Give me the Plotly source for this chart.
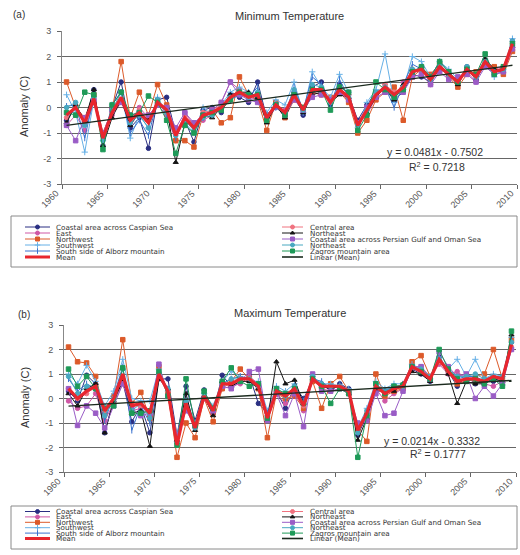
import plotly.graph_objects as go

W, H = 520, 555

years = list(range(1961, 2011))

# ---------------- Minimum temperature anomalies (C) ----------------
tmin_caspian = [-0.5, 0.0, -0.6, 0.7, -1.5, 0.0, 1.0, -0.8, -0.4, -1.6,
                0.3, 0.4, -1.0, -0.5, -1.35, -0.1, 0.0, -0.2, 0.5, 0.4,
                0.2, 1.0, -0.4, 0.2, -0.3, 0.6, -0.3, 0.8, 1.0, 0.1,
                0.9, 0.5, -0.5, 0.1, 0.6, 0.7, 0.3, 0.6, 1.3, 1.2,
                1.0, 1.5, 1.3, 0.9, 1.6, 1.1, 1.7, 1.3, 1.4, 2.6]
tmin_east = [-0.7, -0.3, -0.9, 0.2, -1.1, -0.3, 0.2, -0.6, 0.0, -0.4,
             0.1, -0.3, -1.3, -0.2, -0.7, -0.5, -0.3, 0.2, 1.0, 0.7,
             0.3, 0.4, -0.3, 0.0, -0.1, 0.4, 0.0, 0.6, 0.5, 0.3,
             0.6, 0.3, -0.6, -0.3, 0.4, 0.9, 0.4, 1.0, 1.3, 1.6,
             0.9, 1.7, 1.2, 1.1, 1.4, 1.0, 1.9, 1.5, 1.6, 2.4]
tmin_northwest = [1.0, 0.0, -0.4, 0.5, -1.0, -0.1, 1.8, -0.4, 0.6, -0.3,
                  0.9, 0.1, -1.3, -1.3, -1.55, -0.3, -0.1, -0.6, -0.4, 1.2,
                  0.5, 0.3, -0.9, 0.2, -0.4, 0.3, 0.0, 0.6, 0.5, 0.4,
                  0.6, 0.2, -1.0, -0.5, 0.3, 0.6, 0.8, -0.5, 1.2, 1.5,
                  1.3, 1.7, 1.2, 0.8, 1.3, 1.4, 1.7, 1.6, 1.3, 2.2]
tmin_southwest = [0.5, -0.2, -1.75, 0.3, -1.3, 0.1, 0.6, -1.2, -0.3, -0.8,
                  0.4, -0.2, -0.9, -0.6, -1.0, 0.0, -0.3, 0.1, 0.6, 0.8,
                  0.6, 0.3, -0.2, 0.3, 0.1, 1.0, -0.2, 1.4, 0.8, 0.4,
                  1.3, 0.6, -0.8, 0.2, 0.7, 2.1, 0.2, 0.7, 2.0, 1.8,
                  1.2, 1.8, 1.5, 1.1, 1.4, 1.3, 1.9, 1.2, 1.5, 2.7]
tmin_alborz = [0.05, 0.1, -1.2, 0.4, -1.4, 0.1, 0.6, -1.0, -0.5, -1.1,
               0.3, -0.3, -1.2, -0.4, -0.9, -0.4, -0.2, 0.0, 0.3, 0.5,
               0.4, 0.8, -0.5, 0.0, -0.3, 0.8, -0.1, 1.2, 0.9, 0.1,
               1.1, 0.4, -0.6, -0.2, 0.5, 0.8, 0.0, 0.9, 1.7, 1.5,
               1.2, 1.8, 1.4, 1.0, 1.5, 1.2, 1.8, 1.4, 1.5, 2.6]
tmin_central = [-0.4, 0.1, -0.5, 0.3, -1.1, -0.2, 0.3, -0.4, -0.1, -0.5,
                0.2, 0.0, -1.0, -0.3, -0.7, -0.2, -0.1, 0.1, 0.4, 0.5,
                0.4, 0.5, -0.4, 0.1, -0.2, 0.5, -0.1, 0.6, 0.7, 0.3,
                0.7, 0.5, -0.7, 0.0, 0.5, 0.9, 0.6, 0.8, 1.5, 1.4,
                1.2, 1.6, 1.2, 1.1, 1.5, 1.3, 1.8, 1.4, 1.6, 2.5]
tmin_northeast = [-0.6, 0.1, -0.5, 0.7, -1.5, -0.4, 0.3, -0.7, -0.2, -0.5,
                  0.1, 0.0, -2.15, -0.6, -0.7, -0.3, -0.4, 0.0, 0.5, 0.6,
                  0.6, 0.4, -0.6, 0.1, -0.4, 0.4, -0.2, 0.5, 0.6, 0.2,
                  0.5, 0.4, -0.6, -0.2, 0.4, 0.8, 0.3, 0.9, 1.3, 1.6,
                  1.1, 1.6, 1.3, 0.9, 1.5, 1.1, 1.9, 1.5, 1.4, 2.4]
tmin_persian = [-0.7, -1.3, -0.4, 0.3, -1.0, -0.1, 0.2, -0.3, -0.2, -0.3,
                0.1, 0.0, -0.8, -0.2, -0.6, -0.3, -0.1, 0.2, 1.0, 0.5,
                0.3, 0.2, -0.3, 0.1, -0.3, 0.3, -0.1, 0.4, 0.5, 0.3,
                0.6, 0.3, -0.6, 0.0, 0.4, 0.6, 0.5, 0.6, 1.2, 1.3,
                0.9, 1.4, 1.1, 1.2, 1.3, 1.0, 1.6, 1.3, 1.4, 2.3]
tmin_northeast2 = [0.0, 0.2, -0.7, 0.4, -1.3, -0.1, 0.6, -0.6, -0.3, -0.8,
                   0.3, -0.2, -1.1, -0.5, -0.9, -0.4, -0.3, 0.0, 0.4, 0.6,
                   0.4, 0.6, -0.3, 0.1, -0.2, 0.7, -0.1, 0.9, 0.8, 0.2,
                   0.8, 0.4, -0.7, -0.1, 0.6, 0.8, 0.5, 0.8, 1.5, 1.5,
                   1.1, 1.7, 1.3, 1.0, 1.6, 1.2, 1.8, 1.4, 1.5, 2.6]
tmin_zagros = [-0.2, -0.3, 0.6, 0.5, -1.65, 0.1, 0.6, -0.3, -0.2, 0.45,
               0.2, -0.5, -1.8, -0.7, -1.0, -0.3, -0.2, -0.1, 0.3, 0.6,
               0.5, 0.5, -0.5, 0.1, -0.3, 0.5, 0.0, 0.7, 0.7, -0.1,
               0.8, 0.6, -0.9, -0.3, 1.0, 0.7, 0.4, 0.7, 1.4, 1.6,
               1.2, 1.8, 1.4, 1.0, 1.5, 1.3, 2.1, 1.3, 1.6, 2.5]
tmin_mean = [-0.3, 0.0, -0.6, 0.35, -1.2, -0.2, 0.4, -0.5, -0.2, -0.6,
             0.2, -0.1, -1.1, -0.4, -0.8, -0.3, -0.2, 0.0, 0.4, 0.6,
             0.4, 0.5, -0.4, 0.1, -0.2, 0.5, -0.1, 0.7, 0.7, 0.2,
             0.7, 0.4, -0.7, -0.1, 0.5, 0.8, 0.5, 0.8, 1.4, 1.5,
             1.1, 1.6, 1.3, 1.0, 1.5, 1.2, 1.8, 1.4, 1.5, 2.5]
tmin_slope, tmin_intercept, tmin_r2 = 0.0481, -0.7502, 0.7218

# ---------------- Maximum temperature anomalies (C) ----------------
tmax_caspian = [0.3, -0.1, 0.95, 0.6, -1.4, 0.0, 0.7, -0.95, -0.3, -1.4,
                0.8, 0.8, -1.5, 0.5, -0.9, 0.35, -0.6, 0.95, 0.5, 0.7,
                0.95, -0.2, -0.6, 0.3, -0.4, 0.5, 0.0, 0.7, 0.6, 0.3,
                0.6, 0.4, -1.5, -0.7, 0.3, 0.3, 0.5, 0.4, 1.2, 1.0,
                0.7, 1.7, 1.1, 0.5, 0.9, 0.6, 0.8, 0.7, 0.9, 2.3]
tmax_east = [-0.1, -0.4, -0.3, 0.2, -0.9, -0.2, 0.6, -0.5, -0.4, -0.7,
             0.9, 0.2, -1.6, -0.3, -1.0, 0.0, -0.6, 0.4, 0.5, 0.6,
             0.9, 0.6, -0.7, 0.2, -0.2, 0.3, -0.5, 0.9, 0.4, 0.3,
             0.4, 0.2, -1.1, -0.8, 0.4, -0.1, 0.2, 0.4, 1.2, 1.3,
             0.9, 1.4, 1.0, 1.1, 0.8, 0.7, 0.6, 0.5, 0.7, 2.0]
tmax_northwest = [2.1, 1.5, 1.45, 0.9, -0.6, 0.1, 2.4, -0.2, 0.25, -0.8,
                  1.3, 0.2, -2.4, -1.0, -1.6, 0.0, -0.95, 0.4, 0.7, 1.2,
                  0.8, 0.4, -1.6, 0.2, 0.0, 0.1, -0.4, 0.7, -0.4, 0.6,
                  0.9, 0.3, -1.3, -1.75, 1.0, 0.1, 0.3, 0.4, 1.5, 1.75,
                  0.9, 1.5, 1.2, 0.6, 0.7, 0.9, 1.0, 2.0, 0.8, 2.4]
tmax_southwest = [1.0, 0.6, 1.35, 0.7, -0.3, 0.3, 1.6, 0.0, -0.1, -0.1,
                  1.2, 0.3, -1.5, 0.0, -1.0, 0.2, -0.3, 0.7, 1.1, 0.9,
                  0.7, 0.7, -0.5, 0.5, 0.3, 0.6, -0.2, 0.9, 0.6, 0.6,
                  0.5, 0.4, -1.2, -0.4, 0.7, 0.4, 0.6, 0.6, 1.4, 1.2,
                  0.8, 1.7, 1.2, 1.6, 0.9, 1.6, 0.8, 1.0, 0.9, 2.5]
tmax_alborz = [0.8, 0.3, 0.6, 0.4, -0.9, 0.1, 1.3, -1.3, -0.3, -1.0,
               0.9, 0.4, -1.7, -0.1, -1.1, 0.2, -0.4, 0.6, 0.8, 0.9,
               0.8, 0.4, -0.6, 0.4, 0.0, 0.5, -0.1, 0.8, 0.7, 0.4,
               0.6, 0.3, -1.4, -0.6, 0.5, 0.3, 0.5, 0.5, 1.3, 1.1,
               0.8, 1.6, 1.1, 0.8, 0.9, 0.9, 0.7, 0.9, 0.8, 2.4]
tmax_central = [0.4, 0.0, 0.2, 0.5, -0.5, 0.0, 0.9, -0.3, -0.3, -0.5,
                1.0, 0.3, -1.8, -0.2, -1.2, 0.1, -0.5, 0.6, 0.5, 0.8,
                0.8, 0.5, -0.8, 0.3, 0.2, 0.4, -0.3, 0.8, 0.4, 0.5,
                0.5, 0.3, -1.2, -0.6, 0.5, 0.2, 0.4, 0.5, 1.3, 1.1,
                0.8, 1.5, 1.1, 0.7, 0.8, 0.7, 0.7, 0.9, 0.7, 2.1]
tmax_northeast = [0.2, -0.3, 0.4, 0.6, -1.4, -0.1, 0.7, -0.6, -0.5, -1.95,
                  0.8, 0.4, -1.7, 0.2, -1.3, 0.1, -0.7, 0.7, 0.5, 0.7,
                  0.7, 0.4, -0.9, 1.5, 0.6, 0.75, -0.2, 0.8, 0.5, 0.4,
                  0.5, 0.2, -1.7, -0.8, 0.4, 0.3, 0.3, 0.6, 1.1, 1.0,
                  0.7, 1.6, 1.0, -0.2, 0.7, 0.6, 0.6, 0.8, 0.7, 2.6]
tmax_persian = [0.4, -1.1, -0.3, -0.6, -1.2, -0.3, 0.6, -0.4, -0.7, -0.6,
                1.4, 0.1, -1.5, -0.5, -1.1, 0.0, -0.5, 0.5, 0.4, 0.7,
                1.1, 1.2, -0.9, 0.2, -0.7, 0.2, -1.15, 1.0, 0.3, 0.3,
                0.4, 0.2, -1.0, -0.9, 0.2, -0.7, -0.6, 0.3, 1.3, 1.3,
                0.8, 1.9, 1.3, 0.9, 1.0, 0.0, 0.5, 0.1, 0.6, 2.0]
tmax_northeast2 = [0.9, 0.2, 0.5, 0.4, -0.7, 0.0, 1.2, -0.5, -0.2, -0.8,
                   1.0, 0.4, -1.8, -0.1, -1.2, 0.2, -0.4, 0.6, 0.8, 0.8,
                   0.8, 0.5, -0.7, 0.4, 0.1, 0.5, -0.2, 0.9, 0.6, 0.5,
                   0.5, 0.3, -1.4, -0.5, 0.6, 0.3, 0.5, 0.5, 1.3, 1.2,
                   0.9, 1.6, 1.2, 0.9, 0.9, 1.0, 0.8, 0.9, 0.9, 2.3]
tmax_zagros = [1.2, 0.5, 0.9, 0.4, -0.4, -0.3, 1.25, -0.6, -0.6, -0.5,
               1.1, 0.1, -1.9, 0.8, -1.1, 0.3, -0.4, 0.7, 1.25, 0.7,
               0.5, 0.6, -0.8, 0.4, 0.2, 0.4, -0.2, 0.8, 0.5, -0.2,
               0.4, 0.2, -2.4, -0.7, 0.6, 0.2, 0.5, 0.55, 1.3, 1.1,
               0.8, 2.0, 1.2, 0.8, 0.7, 0.8, 0.6, 0.8, 0.5, 2.75]
tmax_mean = [0.4, 0.0, 0.3, 0.5, -0.5, 0.0, 1.0, -0.3, -0.2, -0.6,
             1.0, 0.3, -1.9, -0.2, -1.2, 0.1, -0.5, 0.6, 0.6, 0.8,
             0.8, 0.5, -0.8, 0.3, 0.1, 0.4, -0.3, 0.8, 0.5, 0.5,
             0.5, 0.3, -1.3, -0.6, 0.5, 0.2, 0.4, 0.5, 1.3, 1.1,
             0.8, 1.6, 1.1, 0.7, 0.8, 0.8, 0.7, 0.9, 0.8, 2.2]
tmax_slope, tmax_intercept, tmax_r2 = 0.0214, -0.3332, 0.1777

tick_years = [1960, 1965, 1970, 1975, 1980, 1985, 1990, 1995, 2000, 2005, 2010]
anomaly_ticks = [-3, -2, -1, 0, 1, 2, 3]

region_labels = ["Coastal area across Caspian Sea", "East", "Northwest", "Southwest",
                 "South side of Alborz mountain", "Central area", "Northeast",
                 "Coastal area across Persian Gulf and Oman Sea", "Northeast",
                 "Zagros mountain area"]

# line colour / marker symbol for each region, same order as region_labels
region_styles = [("#2a2f82", "circle"), ("#cf58a6", "circle"), ("#dc5a2a", "square"),
                 ("#66b0e6", "cross-thin"), ("#3a72cf", "line-ns"), ("#f0727f", "circle"),
                 ("#151515", "triangle-up"), ("#9a5cc6", "square"), ("#48a8c0", "circle"),
                 ("#1e9a58", "square")]
MEAN_COLOR = "#e8262e"
TREND_COLOR = "#1b2a1e"
FONT = "Liberation Sans, Arial, sans-serif"
LEGEND_FONT = "DejaVu Sans, sans-serif"

panels = [
    dict(series=[tmin_caspian, tmin_east, tmin_northwest, tmin_southwest, tmin_alborz,
                 tmin_central, tmin_northeast, tmin_persian, tmin_northeast2, tmin_zagros],
         mean=tmin_mean, slope=tmin_slope, intercept=tmin_intercept, r2=tmin_r2,
         xa="x", ya="y", bottom=184),
    dict(series=[tmax_caspian, tmax_east, tmax_northwest, tmax_southwest, tmax_alborz,
                 tmax_central, tmax_northeast, tmax_persian, tmax_northeast2, tmax_zagros],
         mean=tmax_mean, slope=tmax_slope, intercept=tmax_intercept, r2=tmax_r2,
         xa="x2", ya="y2", bottom=472),
]

# each year is plotted in the middle of its category slot
xpos = [yr - 0.5 for yr in years]

fig = go.Figure()
for p in panels:
    for label, vals, (col, sym) in zip(region_labels, p["series"], region_styles):
        fig.add_trace(go.Scatter(
            x=xpos, y=vals, mode="lines+markers", name=label, showlegend=False,
            xaxis=p["xa"], yaxis=p["ya"],
            line=dict(color=col, width=1),
            marker=dict(symbol=sym, size=4.5, color=col, line=dict(color=col, width=1))))
    fig.add_trace(go.Scatter(
        x=xpos, y=p["mean"], mode="lines", name="Mean", showlegend=False,
        xaxis=p["xa"], yaxis=p["ya"], line=dict(color=MEAN_COLOR, width=3.2)))
    trend = [p["slope"] * (i + 1) + p["intercept"] for i in range(len(years))]
    fig.add_trace(go.Scatter(
        x=xpos, y=trend, mode="lines", name="Linear (Mean)", showlegend=False,
        xaxis=p["xa"], yaxis=p["ya"], line=dict(color=TREND_COLOR, width=1.4)))


def px(x):
    return x / W


def py(y):
    return 1 - y / H


# year labels are drawn as slanted annotations below the ticks
xcommon = dict(range=[1960, 2010], tickmode="array", tickvals=tick_years,
               showticklabels=False, automargin=False,
               ticks="outside", ticklen=4, tickcolor="#666", showgrid=False,
               zeroline=False, showline=True, linecolor="#777", linewidth=1)
ycommon = dict(range=[-3, 3], tickmode="array", tickvals=anomaly_ticks,
               ticktext=[str(t) for t in anomaly_ticks], automargin=False,
               ticks="outside", ticklen=4, tickcolor="#666", ticklabelstandoff=4,
               showgrid=True, gridcolor="#666", gridwidth=1,
               zeroline=True, zerolinecolor="#666", zerolinewidth=1,
               showline=True, linecolor="#888", linewidth=1,
               tickfont=dict(family=FONT, size=9, color="#555"))

fig.update_layout(
    width=W, height=H, margin=dict(l=0, r=0, t=0, b=0, pad=0, autoexpand=False),
    paper_bgcolor="white", plot_bgcolor="rgba(0,0,0,0)", showlegend=False,
    xaxis=dict(domain=[px(62), px(517)], anchor="y", **xcommon),
    yaxis=dict(domain=[py(184), py(31)], anchor="x", **ycommon),
    xaxis2=dict(domain=[px(64), px(516)], anchor="y2", **xcommon),
    yaxis2=dict(domain=[py(472), py(325)], anchor="x2", **ycommon),
    # pixel-space overlay used for the legend boxes
    xaxis3=dict(domain=[0, 1], range=[0, W], visible=False, anchor="y3",
                fixedrange=True, automargin=False),
    yaxis3=dict(domain=[0, 1], range=[H, 0], visible=False, anchor="x3",
                fixedrange=True, automargin=False),
)

annotations = []


def text(x, y, s, size, anchor="center", color="#333", angle=0):
    annotations.append(dict(x=px(x), y=py(y), xref="paper", yref="paper", text=s,
                            showarrow=False, xanchor=anchor, yanchor="middle",
                            textangle=angle,
                            font=dict(family=FONT, size=size, color=color)))


for p in panels:
    for yr in tick_years:
        annotations.append(dict(x=yr, y=py(p["bottom"] + 3), xref=p["xa"], yref="paper",
                                text=str(yr), showarrow=False, textangle=-45,
                                xanchor="right", yanchor="top", borderpad=0,
                                font=dict(family=FONT, size=9, color="#555")))

# panel captions, titles, axis titles and trend equations
text(19, 15, "(a)", 10)
text(289, 16, "Minimum Temperature", 11)
text(24, 107, "Anomaly (C)", 11, angle=-90)
text(435, 152, f"y = {tmin_slope}x - {abs(tmin_intercept)}", 10.5)
text(437, 166, f"R<sup>2</sup> = {tmin_r2}", 10.5)

text(24, 314, "(b)", 10)
text(290, 313, "Maximum Temperature", 11)
text(25, 398, "Anomaly (C)", 11, angle=-90)
text(432, 441, f"y = {tmax_slope}x - {abs(tmax_intercept)}", 10.5)
text(438, 453, f"R<sup>2</sup> = {tmax_r2}", 10.5)

# legend entries: (label, colour, symbol or None, line width)
legend_left = [(region_labels[i], region_styles[i][0], region_styles[i][1], 1) for i in range(5)]
legend_left.append(("Mean", MEAN_COLOR, None, 3))
legend_right = [(region_labels[i], region_styles[i][0], region_styles[i][1], 1) for i in range(5, 10)]
legend_right.append(("Linear (Mean)", TREND_COLOR, None, 1.6))

shapes = []


def draw_legend(box_top, box_bottom, row0, step):
    shapes.append(dict(type="rect", xref="x3", yref="y3", x0=11, x1=517, y0=box_top,
                       y1=box_bottom, line=dict(color="#8a8a8a", width=1)))
    for entries, (lx0, lx1, tx) in ((legend_left, (25, 50, 54)), (legend_right, (282, 303, 308))):
        for r, (label, col, sym, lw) in enumerate(entries):
            yy = row0 + r * step
            fig.add_trace(go.Scatter(x=[lx0, lx1], y=[yy, yy], mode="lines", showlegend=False,
                                     xaxis="x3", yaxis="y3", hoverinfo="skip",
                                     line=dict(color=col, width=lw)))
            if sym:
                fig.add_trace(go.Scatter(x=[(lx0 + lx1) / 2], y=[yy], mode="markers",
                                         showlegend=False, xaxis="x3", yaxis="y3",
                                         hoverinfo="skip",
                                         marker=dict(symbol=sym, size=4, color=col,
                                                     line=dict(color=col, width=1))))
            annotations.append(dict(x=tx, y=yy, xref="x3", yref="y3", text=label,
                                    showarrow=False, xanchor="left", yanchor="middle",
                                    font=dict(family=LEGEND_FONT, size=7.2, color="#333")))


draw_legend(216, 267, 227, 6.0)
draw_legend(506, 549, 511.5, 5.4)

fig.update_layout(annotations=annotations, shapes=shapes)
fig.write_html("out.html")
